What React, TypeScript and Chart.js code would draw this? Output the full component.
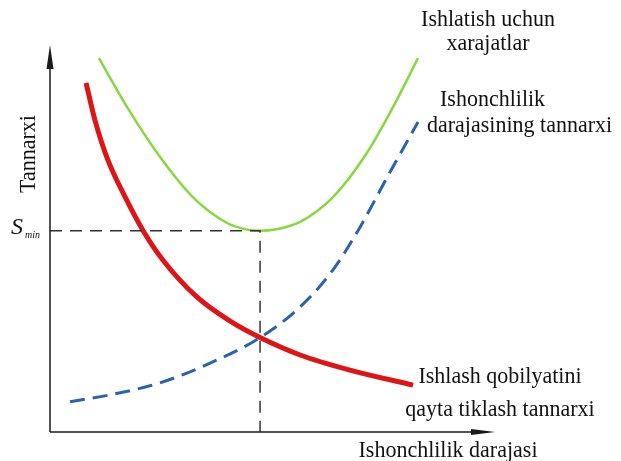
import React, { useEffect, useRef } from "react";
import { Chart, registerables } from "chart.js";

Chart.register(...registerables);

// Reliability level (x) vs cost (y), both in relative units 0..100
const greenX = [11, 17.3, 24.7, 32.1, 39.8, 44.3, 47.2, 50.5, 56.2, 63.6, 71.2, 77.1, 82.7];
const greenY = [96.6, 84.0, 71.1, 60.7, 54.0, 52.3, 52.0, 52.3, 54.3, 60.7, 72.1, 84.0, 96.6];

const redX = [8.1, 10.1, 13.0, 16.9, 21.1, 25.4, 33.0, 40.4, 47.2, 56.2, 67.4, 81.6];
const redY = [90.2, 80.6, 70.3, 60.7, 51.7, 44.4, 34.9, 28.7, 24.4, 19.9, 16.0, 12.1];

const blueX = [4.5, 13.5, 24.7, 36.0, 47.2, 56.2, 63.6, 69.7, 75.9, 82.7];
const blueY = [7.8, 9.6, 12.7, 17.8, 24.4, 32.3, 41.9, 53.0, 66.1, 80.1];

const S_MIN = 52;
const X_OPT = 47.2;
const refX = [0, X_OPT, X_OPT];
const refY = [S_MIN, S_MIN, 0];

const yTitle = "Tannarxi";
const xTitle = "Ishonchlilik darajasi";
const greenLabel = ["Ishlatish uchun", "xarajatlar"];
const blueLabel = ["Ishonchlilik", "darajasining tannarxi"];
const redLabel = ["Ishlash qobilyatini", "qayta tiklash tannarxi"];

const pts = (xs: number[], ys: number[]) => xs.map((x, i) => ({ x, y: ys[i] }));

const FONT = '"Liberation Serif", "Times New Roman", serif';

const decor = {
  id: "decor",
  afterDatasetsDraw(chart: any) {
    const ctx = chart.ctx as CanvasRenderingContext2D;
    const xs = chart.scales.x;
    const ys = chart.scales.y;
    const x0 = xs.getPixelForValue(0);
    const y0 = ys.getPixelForValue(0);
    const xEnd = xs.getPixelForValue(100);
    const yEnd = ys.getPixelForValue(100);
    ctx.save();
    ctx.strokeStyle = "#1a1a1a";
    ctx.fillStyle = "#1a1a1a";
    ctx.lineWidth = 1.5;
    // y axis
    ctx.beginPath();
    ctx.moveTo(x0, y0);
    ctx.lineTo(x0, yEnd + 10);
    ctx.stroke();
    ctx.beginPath();
    ctx.moveTo(x0, yEnd);
    ctx.lineTo(x0 - 3.5, yEnd + 24);
    ctx.lineTo(x0 + 3.5, yEnd + 24);
    ctx.closePath();
    ctx.fill();
    // x axis
    ctx.beginPath();
    ctx.moveTo(x0, y0);
    ctx.lineTo(xEnd - 10, y0);
    ctx.stroke();
    ctx.beginPath();
    ctx.moveTo(xEnd, y0);
    ctx.lineTo(xEnd - 24, y0 - 3);
    ctx.lineTo(xEnd - 24, y0 + 3);
    ctx.closePath();
    ctx.fill();

    // texts
    ctx.fillStyle = "#111";
    ctx.textBaseline = "middle";
    const txt = (s: string, x: number, y: number, align: CanvasTextAlign) => {
      ctx.save();
      ctx.translate(x, y);
      ctx.scale(1, 1.08);
      ctx.textAlign = align;
      ctx.fillText(s, 0, 0);
      ctx.restore();
    };
    ctx.font = `22px ${FONT}`;
    txt(greenLabel[0], 488, 20, "center");
    txt(greenLabel[1], 488, 44, "center");
    txt(blueLabel[0], 440, 100, "left");
    txt(blueLabel[1], 427, 126, "left");
    txt(redLabel[0], 500, 377, "center");
    txt(redLabel[1], 500, 410, "center");
    txt(xTitle, 448, 451, "center");

    ctx.font = `20px ${FONT}`;
    ctx.save();
    ctx.translate(29, 154);
    ctx.rotate(-Math.PI / 2);
    ctx.scale(1.1, 1.15);
    ctx.textAlign = "center";
    ctx.fillText(yTitle, 0, 0);
    ctx.restore();

    // S_min label
    const ys0 = ys.getPixelForValue(S_MIN);
    ctx.font = `italic 24px ${FONT}`;
    ctx.textAlign = "left";
    ctx.fillText("S", 11, ys0 - 3);
    ctx.font = `italic 10px ${FONT}`;
    ctx.fillText("min", 25, ys0 + 5);
    ctx.restore();
  },
};

export default function App() {
  const ref = useRef<HTMLCanvasElement | null>(null);
  useEffect(() => {
    if (!ref.current) return;
    const chart = new Chart(ref.current, {
      type: "line",
      data: {
        datasets: [
          {
            data: pts(refX, refY),
            borderColor: "#333",
            borderWidth: 1.5,
            borderDash: [12, 8],
            tension: 0,
            pointRadius: 0,
            clip: false as any,
          },
          {
            data: pts(greenX, greenY),
            borderColor: "#86d83e",
            borderWidth: 2.5,
            cubicInterpolationMode: "monotone",
            pointRadius: 0,
            clip: false as any,
          },
          {
            data: pts(blueX, blueY),
            borderColor: "#2b62ad",
            borderWidth: 3,
            borderDash: [15, 8],
            cubicInterpolationMode: "monotone",
            pointRadius: 0,
            clip: false as any,
          },
          {
            data: pts(redX, redY),
            borderColor: "#dc1616",
            borderWidth: 5,
            cubicInterpolationMode: "monotone",
            pointRadius: 0,
            clip: false as any,
          },
        ],
      },
      options: {
        responsive: false,
        animation: false,
        layout: { padding: { left: 50, right: 126, top: 45, bottom: 29 } },
        scales: {
          x: { type: "linear", min: 0, max: 100, display: false },
          y: { type: "linear", min: 0, max: 100, display: false },
        },
        plugins: { legend: { display: false }, tooltip: { enabled: false } },
      },
      plugins: [decor],
    });
    return () => chart.destroy();
  }, []);
  return (
    <div style={{ position: "fixed", left: 0, top: 0, width: 621, height: 461, background: "#fff" }}>
      <canvas ref={ref} width={621} height={461} />
    </div>
  );
}
